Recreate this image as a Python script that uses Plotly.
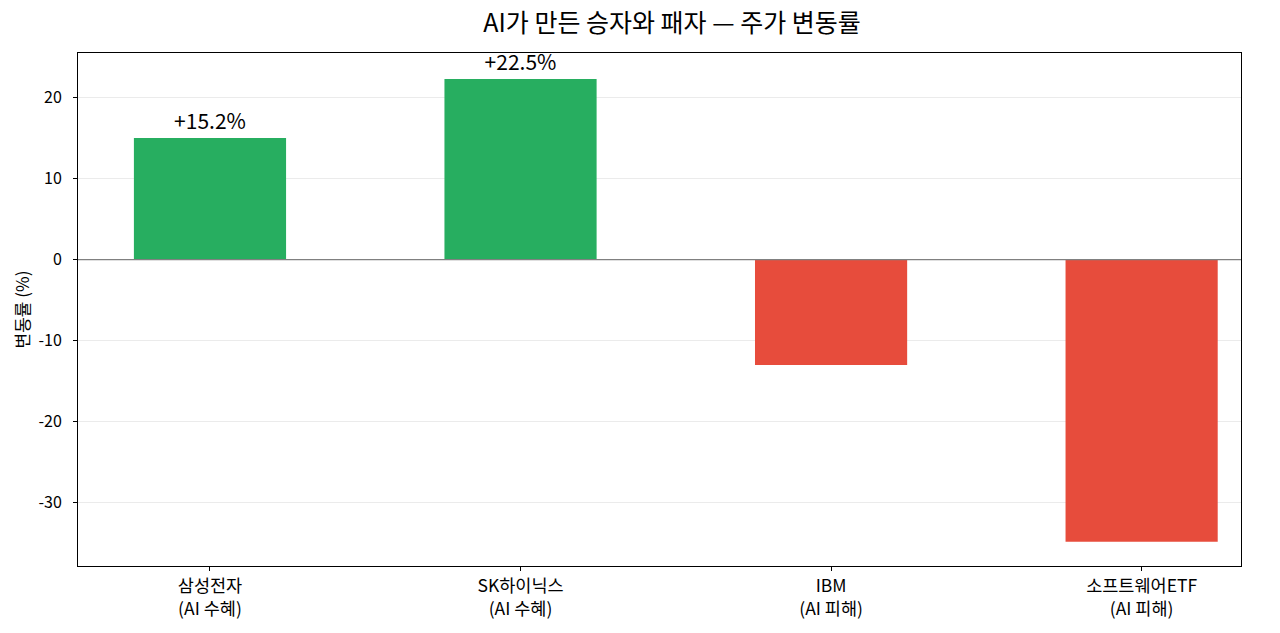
import plotly.graph_objects as go

categories = ["삼성전자<br>(AI 수혜)", "SK하이닉스<br>(AI 수혜)", "IBM<br>(AI 피해)", "소프트웨어ETF<br>(AI 피해)"]
values = [15.0, 22.3, -13.0, -34.8]
labels = ["+15.2%", "+22.5%", "", ""]
colors = ["#27ae60", "#27ae60", "#e74c3c", "#e74c3c"]
y_ticks = [-30, -20, -10, 0, 10, 20]

FONT = "Noto Sans CJK KR"

fig = go.Figure()
fig.add_trace(go.Bar(
    x=list(range(len(categories))),
    y=values,
    width=0.49,
    marker=dict(color=colors, line=dict(width=0)),
    text=labels,
    textposition="outside",
    textfont=dict(family=FONT, size=21, color="#000000"),
    cliponaxis=False,
    showlegend=False,
))

fig.add_hline(y=0, line=dict(color="#808080", width=1.3))

fig.update_layout(
    width=1280, height=633,
    paper_bgcolor="white", plot_bgcolor="white",
    margin=dict(l=70, r=47, t=45, b=75),
    title=dict(text="AI가 만든 승자와 패자 — 주가 변동률", xref="container",
               x=(672 - 8) / 1280, xanchor="center",
               y=1 - 15 / 633, yanchor="middle",
               font=dict(family=FONT, size=25, color="#000000")),
    font=dict(family=FONT, size=16, color="#000000"),
)
fig.update_xaxes(
    tickmode="array", tickvals=list(range(len(categories))), ticktext=categories,
    range=[-0.425, 3.32], showgrid=False, zeroline=False,
    showline=True, linecolor="#000000", linewidth=1, mirror=True,
    ticks="outside", ticklen=4, tickcolor="#000000",
    tickfont=dict(family=FONT, size=17.5),
)
fig.update_yaxes(
    tickmode="array", tickvals=y_ticks, ticktext=[str(v) for v in y_ticks],
    range=[-37.8, 25.5], showgrid=True, gridcolor="#ebebeb", gridwidth=1,
    zeroline=False,
    showline=True, linecolor="#000000", linewidth=1, mirror=True,
    ticks="outside", ticklen=4, tickcolor="#000000",
    ticklabelstandoff=8,
    tickfont=dict(family=FONT, size=16),
    title=dict(text="변동률 (%)", font=dict(family=FONT, size=17), standoff=4),
)

fig.write_html("out.html")
